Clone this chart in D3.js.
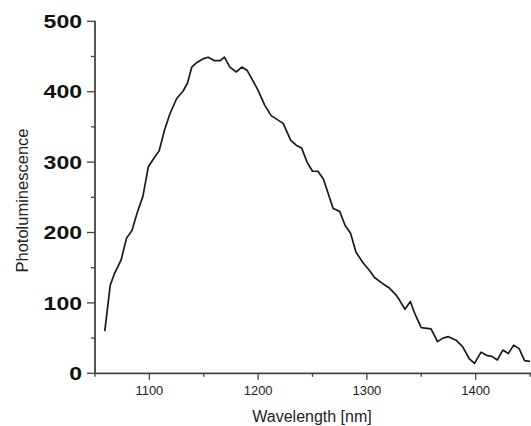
<!DOCTYPE html>
<html>
<head>
<meta charset="utf-8">
<script src="https://cdn.jsdelivr.net/npm/d3@7"></script>
<style>
  html, body { margin: 0; padding: 0; background: #fff; }
  svg { display: block; }
  .ytick text { font-family: "Liberation Sans", Arial, sans-serif; font-weight: bold; font-size: 18px; fill: #111; }
  .xtick text { font-family: "Liberation Sans", Arial, sans-serif; font-size: 13px; fill: #222; }
  .title { font-family: "Liberation Sans", Arial, sans-serif; font-size: 16px; fill: #222; }
</style>
</head>
<body>
<svg id="chart" width="531" height="426"></svg>
<script>
// Emission spectrum: wavelength (nm) and photoluminescence intensity
const wavelengths = [
  1059, 1064, 1068, 1074, 1079, 1084, 1089, 1094, 1099, 1104,
  1109, 1114, 1119, 1125, 1131, 1135, 1139, 1144, 1150, 1154,
  1160, 1165, 1169, 1174, 1180, 1185, 1190, 1194, 1200, 1206,
  1212, 1217, 1223, 1230, 1235, 1240, 1245, 1250, 1255, 1260,
  1269, 1275, 1280, 1285, 1290, 1297, 1303, 1307, 1314, 1320,
  1327, 1330, 1335, 1340, 1344, 1350, 1359, 1365, 1370, 1375,
  1382, 1388, 1394, 1399, 1405, 1411, 1415, 1420, 1425, 1430,
  1435, 1440, 1445, 1450
];
const intensity = [
  60, 125, 142, 161, 192, 203, 229, 251, 293, 305,
  316, 346, 369, 390, 401, 412, 435, 442, 447, 449,
  444, 444, 449, 435, 428, 435, 430, 419, 402, 381,
  366, 361, 355, 331, 324, 320, 300, 287, 287, 276,
  234, 230, 210, 199, 172, 156, 145, 136, 128, 122,
  111, 104, 91, 102, 85, 65, 63, 45, 50, 52,
  47, 38, 21, 14, 30, 25, 24, 19, 33, 28,
  40, 35, 18, 17
];
const xMajorTicks = [1100, 1200, 1300, 1400];
const xMinorTicks = [1050, 1150, 1250, 1350, 1450];
const yMajorTicks = [0, 100, 200, 300, 400, 500];
const yMinorTicks = [50, 150, 250, 350, 450];
const xTitle = "Wavelength [nm]";
const yTitle = "Photoluminescence";

const svg = d3.select("#chart");
const x = d3.scaleLinear().domain([1050, 1450]).range([95, 530]);
const y = d3.scaleLinear().domain([0, 500]).range([373.3, 21.3]);
const axisColor = "#444";

// x axis line and ticks
svg.append("line")
  .attr("x1", x(1050)).attr("x2", 531)
  .attr("y1", y(0)).attr("y2", y(0))
  .attr("stroke", axisColor).attr("stroke-width", 1.8);

svg.selectAll(".xminor").data(xMinorTicks).join("line")
  .attr("x1", d => x(d)).attr("x2", d => x(d))
  .attr("y1", y(0)).attr("y2", y(0) + 3.5)
  .attr("stroke", axisColor).attr("stroke-width", 1.3);

const xt = svg.selectAll(".xtick").data(xMajorTicks).join("g")
  .attr("class", "xtick")
  .attr("transform", d => `translate(${x(d)},${y(0)})`);
xt.append("line").attr("y1", 0).attr("y2", 6.5)
  .attr("stroke", axisColor).attr("stroke-width", 1.3);
xt.append("text").attr("y", 22).attr("text-anchor", "middle").text(d => d);

// y axis line and ticks
svg.append("line")
  .attr("x1", x(1050)).attr("x2", x(1050))
  .attr("y1", y(500) - 0.5).attr("y2", y(0))
  .attr("stroke", axisColor).attr("stroke-width", 1.8);

svg.selectAll(".yminor").data(yMinorTicks).join("line")
  .attr("x1", x(1050) - 4).attr("x2", x(1050))
  .attr("y1", d => y(d)).attr("y2", d => y(d))
  .attr("stroke", axisColor).attr("stroke-width", 1.3);

const yt = svg.selectAll(".ytick").data(yMajorTicks).join("g")
  .attr("class", "ytick")
  .attr("transform", d => `translate(0,${y(d)})`);
yt.append("line").attr("x1", x(1050) - 8).attr("x2", x(1050))
  .attr("stroke", axisColor).attr("stroke-width", 1.3);
yt.append("text")
  .attr("text-anchor", "end")
  .attr("transform", "translate(82,6.6) scale(1.28,1)")
  .text(d => d);

// axis titles
svg.append("text").attr("class", "title")
  .attr("x", 312).attr("y", 422).attr("text-anchor", "middle")
  .text(xTitle);
svg.append("text").attr("class", "title")
  .attr("transform", "translate(27.5,200.5) rotate(-90)")
  .attr("text-anchor", "middle")
  .style("font-size", "16.5px")
  .text(yTitle);

// spectrum line
const line = d3.line()
  .x((d, i) => x(wavelengths[i]))
  .y(d => y(d));
svg.append("path")
  .datum(intensity)
  .attr("d", line)
  .attr("fill", "none")
  .attr("stroke", "#1a1a1a")
  .attr("stroke-width", 1.7)
  .attr("stroke-linejoin", "round");
</script>
</body>
</html>
